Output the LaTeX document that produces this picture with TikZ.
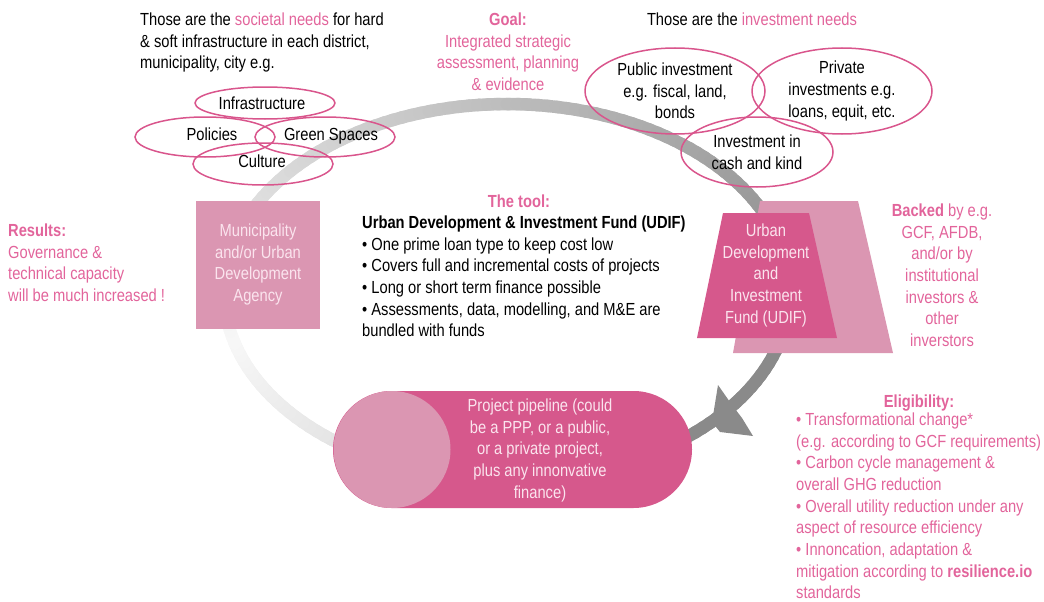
\documentclass[tikz,border=0pt]{standalone}
\usepackage{fontspec}
\setmainfont{Liberation Sans}[FakeStretch=0.84]
\usetikzlibrary{shapes.geometric,shapes.misc,positioning}
\definecolor{textpink}{HTML}{E2649B}
\definecolor{udifpink}{HTML}{D6588C}
\definecolor{palepink}{HTML}{DB96B2}
\definecolor{linepink}{HTML}{D9558C}
\definecolor{boxtxt}{HTML}{FBE4EE}
\tikzset{
  txt/.style={inner sep=0pt, font=\fontsize{17.5}{21.7}\selectfont},
  pinktxt/.style={txt, text=textpink},
  lab/.style={text height=12.5pt, text depth=0pt},
  oval/.style={ellipse, draw=linepink, line width=1.5pt, inner sep=0pt}
}
\begin{document}
\begin{tikzpicture}[x=1pt,y=-1pt]
    \useasboundingbox (0,0) rectangle (1044,602);

    %% Ring arrow
    \foreach \t in {100,102,...,408}{
      \pgfmathsetmacro\p{\t<165 ? 3+0.2*(165-\t) : min(46,3+0.22*(\t-165))}
      \draw [line width=12.5pt, line cap=round, draw=black!\p] ({507+283*cos(\t)},{292+188*sin(\t)}) -- ({507+283*cos(\t+2.5)},{292+188*sin(\t+2.5)});
    }
    \fill [black!46] (718,385) -- (712,422) -- (720,432) -- (753,436) -- (742,418) -- (732,405) -- cycle;

    %% Societal needs
    \node [txt, anchor=north west, align=left] (soc) at (140,12.5) {Those are the \textcolor{textpink}{societal needs} for hard\\\& soft infrastructure in each district,\\municipality, city e.g.};
    \node [oval, minimum width=140pt, minimum height=32pt] (inf) at (265,103) {};
    \node [oval, minimum width=140pt, minimum height=40pt] (pol) at (205,137) {};
    \node [oval, minimum width=140pt, minimum height=40pt] (gre) at (325,137) {};
    \node [oval, minimum width=140pt, minimum height=42pt] (cul) at (263,164) {};
    \node at (inf) [txt, lab, xshift=-3pt] (inft) {Infrastructure};
    \node at (pol) [txt, lab, xshift=7pt, yshift=3pt] (polt) {Policies};
    \node at (gre) [txt, lab, xshift=6pt, yshift=3pt] (gret) {Green Spaces};
    \node at (cul) [txt, lab, xshift=-1pt, yshift=3pt] (cult) {Culture};

    %% Goal
    \node [pinktxt, anchor=north, align=center] (goa) at (508,12.5) {\textbf{Goal:}\\Integrated strategic\\assessment, planning\\\& evidence};

    %% Investment needs
    \node [txt, anchor=north] (inv) at (752,12.5) {Those are the \textcolor{textpink}{investment needs}};
    \node [oval, txt, align=center, minimum width=180pt, minimum height=86pt] (pub) at (675,91) {Public investment\\e.g. fiscal, land,\\bonds};
    \node [oval, txt, align=center, minimum width=180pt, minimum height=86pt] (pri) at (842,91) {Private\\investments e.g.\\loans, equit, etc.};
    \node [oval, txt, align=center, minimum width=152pt, minimum height=70pt] (cas) at (757,152) {Investment in\\cash and kind};

    %% Results
    \node [pinktxt, anchor=north west, align=left] (res) at (8,223.5) {\textbf{Results:}\\Governance \&\\technical capacity\\will be much increased !};
    \node [fill=palepink, inner sep=0pt, minimum width=124pt, minimum height=128pt] (mun) at (258,265) {};
    \node [txt, text=boxtxt, anchor=north, align=center] (munt) at (258,223.5) {Municipality\\and/or Urban\\Development\\Agency};

    %% The tool
    \node [pinktxt, lab] (tol) at (519,201) {\textbf{The tool:}};
    \node [txt, anchor=north west, align=left] (lst) at (362,215.5) {\textbf{Urban Development \& Investment Fund (UDIF)}\\• One prime loan type to keep cost low\\• Covers full and incremental costs of projects\\• Long or short term finance possible\\• Assessments, data, modelling, and M\&E are\\bundled with funds};

    %% Fund
    \fill [palepink] (760,201) -- (858,201) -- (893,353) -- (733,353) -- cycle;
    \fill [udifpink] (723,213) -- (809,213) -- (837,338) -- (697,338) -- cycle;
    \node [txt, text=boxtxt, anchor=north, align=center] (udf) at (766,223.5) {Urban\\Development\\and\\Investment\\Fund (UDIF)};
    \node [pinktxt, anchor=north, align=center] (bak) at (942,203.5) {\textbf{Backed} by e.g.\\GCF, AFDB,\\and/or by\\institutional\\investors \&\\other\\inverstors};

    %% Pipeline
    \node [rounded rectangle, fill=udifpink, inner sep=0pt, minimum width=359pt, minimum height=117pt] (pip) at (512.5,449.5) {};
    \node [circle, fill=palepink, inner sep=0pt, minimum size=117pt] (cir) at (392,449.5) {};
    \node [txt, text=boxtxt, anchor=north, align=center] (pipt) at (540,398.5) {Project pipeline (could\\be a PPP, or a public,\\or a private project,\\plus any innonvative\\finance)};

    %% Eligibility
    \node [pinktxt, lab] (eli) at (919,401) {\textbf{Eligibility:}};
    \node [pinktxt, anchor=north west, align=left] (crt) at (796,412.5) {• Transformational change*\\(e.g. according to GCF requirements)\\• Carbon cycle management \&\\overall GHG reduction\\• Overall utility reduction under any\\aspect of resource efficiency\\• Innoncation, adaptation \&\\mitigation according to \textbf{resilience.io}\\standards};
\end{tikzpicture}
\end{document}
